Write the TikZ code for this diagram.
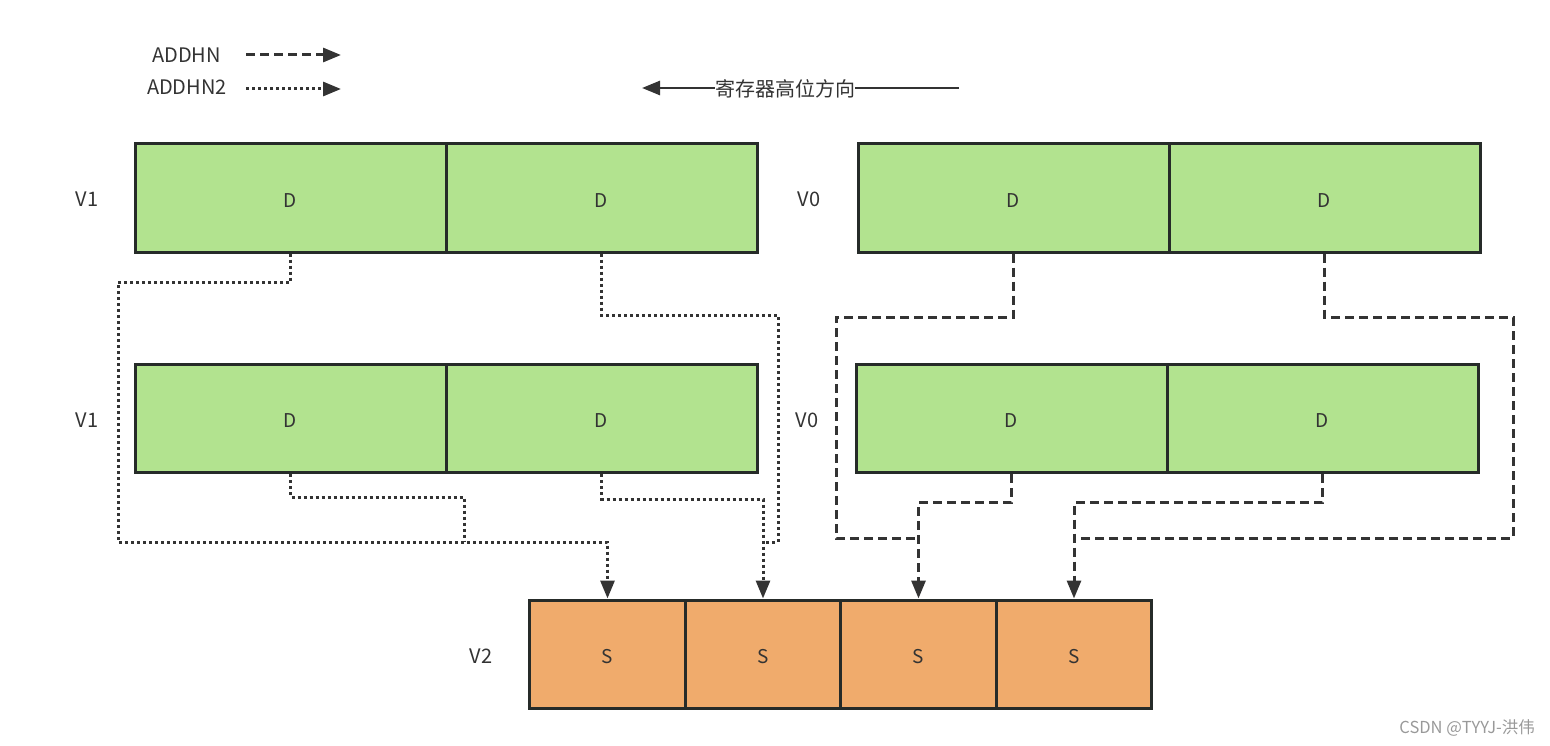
\documentclass[tikz,border=0pt]{standalone}
\usepackage{fontspec}
\setmainfont{Noto Sans CJK SC}
\usetikzlibrary{arrows.meta}
\definecolor{dgreen}{RGB}{178,227,143}
\definecolor{dorange}{RGB}{240,171,108}
\definecolor{edge}{RGB}{38,43,41}
\definecolor{conn}{RGB}{51,51,51}
\tikzset{
  cell/.style={draw=edge,line width=3pt,minimum height=108pt,inner sep=0pt,font=\fontsize{19}{21}\selectfont,text=conn},
  gcell/.style={cell,fill=dgreen,minimum width=311pt},
  ocell/.style={cell,fill=dorange,minimum width=155.5pt},
  lab/.style={font=\fontsize{20}{22}\selectfont,text=conn,inner sep=0pt},
  conn/.style={draw=conn,line width=3pt},
  dsh/.style={conn,dash pattern=on 9pt off 5pt},
  dot/.style={conn,dash pattern=on 3pt off 3pt},
  tip/.style={-{Triangle[length=18pt,width=14pt]}},
}
\newcommand{\lo}[1]{\raisebox{-2.5pt}[\height][0pt]{#1}}
\begin{document}
\begin{tikzpicture}[x=1pt,y=-1pt]
\useasboundingbox (0,0) rectangle (1550,746);
% legend
\node[lab,anchor=east] (l1) at (221,55) {ADDHN};
\node[lab,anchor=east] (l2) at (227,87) {ADDHN2};
\coordinate (l1a) at (246,55); \coordinate (l1b) at (341,55);
\coordinate (l2a) at (246,89); \coordinate (l2b) at (341,89);
\draw[dsh,tip] (l1a) -- (l1b);
\draw[dot,tip] (l2a) -- (l2b);
% direction
\coordinate (dR) at (959,88); \coordinate (dL) at (642,88);
\draw[conn,line width=2.6pt,tip] (dR) -- (dL);
\node[lab,fill=white,inner xsep=0pt,inner ysep=2pt] (dir) at (785,89) {寄存器高位方向};
% row labels
\node[lab] (v1a) at (87,199) {V1};
\node[lab] (v1b) at (87,420) {V1};
\node[lab] (v0a) at (809,199) {V0};
\node[lab] (v0b) at (807,420) {V0};
\node[lab] (v2) at (481,656) {V2};
% boxes
\node[gcell] (a1) at (290.5,198) {\lo{D}};
\node[gcell] (a2) at (601.5,198) {\lo{D}};
\node[gcell] (b1) at (1013.5,198) {\lo{D}};
\node[gcell] (b2) at (1324.5,198) {\lo{D}};
\node[gcell] (c1) at (290.5,418.5) {\lo{D}};
\node[gcell] (c2) at (601.5,418.5) {\lo{D}};
\node[gcell] (d1) at (1011.5,418.5) {\lo{D}};
\node[gcell] (d2) at (1322.5,418.5) {\lo{D}};
\node[ocell] (s1) at (607.5,654) {\lo{S}};
\node[ocell] (s2) at (763,654) {\lo{S}};
\node[ocell] (s3) at (918.5,654) {\lo{S}};
\node[ocell] (s4) at (1074,654) {\lo{S}};
% junctions
\coordinate (j1) at (464,542);
\coordinate (j2) at (762.5,542);
\coordinate (j3) at (918.5,538);
\coordinate (j4) at (1074,538);
% dotted (V1)
\draw[dot,tip] (a1.south) -- (a1.south |- 0,282) -- (118,282) -- (118,542) -- (s1.north |- 0,542) -- (s1.north);
\draw[dot] (a2.south) -- (a2.south |- 0,315) -- (778,315) -- (778,542) -- (j2);
\draw[dot] (c1.south) -- (c1.south |- 0,497) -- (464,497) -- (j1);
\draw[dot,tip] (c2.south) -- (c2.south |- 0,499) -- (s2.north |- 0,499) -- (s2.north);
% dashed (V0)
\draw[dsh] (b1.south) -- (b1.south |- 0,317) -- (836,317) -- (836,538) -- (j3);
\draw[dsh] (b2.south) -- (b2.south |- 0,317) -- (1513,317) -- (1513,538) -- (j4);
\draw[dsh,tip] (d1.south) -- (d1.south |- 0,502) -- (s3.north |- 0,502) -- (s3.north);
\draw[dsh,tip] (d2.south) -- (d2.south |- 0,502) -- (s4.north |- 0,502) -- (s4.north);
% watermark
\node[font=\fontsize{16.5}{18}\selectfont,text=black!40,anchor=east,inner sep=0pt] (wm) at (1535,728) {CSDN @TYYJ-洪伟};
\end{tikzpicture}
\end{document}
